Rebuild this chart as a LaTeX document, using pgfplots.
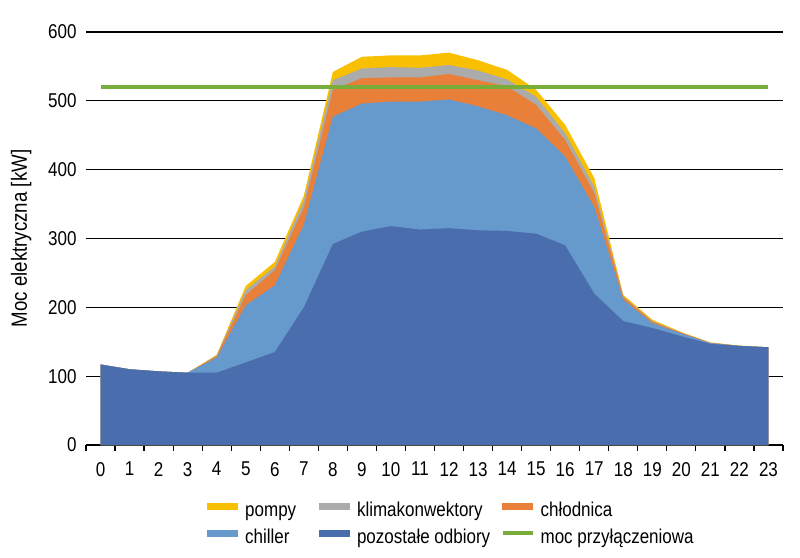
\documentclass[border=0pt]{standalone}
\usepackage{fontspec}
\setmainfont{Liberation Sans}[FakeStretch=0.85]
\usepackage{pgfplots}
\usepackage{pgfplotstable}
\pgfplotsset{compat=1.18}
\usetikzlibrary{calc}
\definecolor{cpompy}{HTML}{F8C000}
\definecolor{cklima}{HTML}{ABABAB}
\definecolor{cchlod}{HTML}{E8803A}
\definecolor{cchill}{HTML}{6699CC}
\definecolor{cpozo}{HTML}{4A6DAE}
\definecolor{cmoc}{HTML}{78AD3C}

% cumulative tops of the stacked areas
\pgfplotstableread{
x    Y     G     O     C     P
0    117   117   117   117   117
1    110   110   110   110   110
2    107   107   107   107   107
3    105   105   105   105   105
4    131   130   129   127   105
5    231   225   218   203   120
6    266   259   254   232   135
7    362   355   345   320   200
8    542   530   516   477   292
9    564   547   533   496   310
10   566   549   534   499   318
11   566   548   534   499   313
12   570   552   539   502   315
13   559   544   530   492   312
14   545   531   521   479   311
15   516   506   494   460   307
16   465   453   443   419   290
17   388   375   366   346   220
18   218   216   215   211   180
19   182   180   179   177   170
20   164   163   163   162   158
21   149   148.5 148.5 148   147
22   144.5 144   144   144   144
23   142   142   142   142   142
}\datatable

\pgfplotsset{
  barleg/.style={legend image code/.code={\fill[#1] (0pt,1.2pt) rectangle (15pt,4.2pt);}},
  lineleg/.style={legend image code/.code={\draw[#1,line width=1.8pt] (0pt,2.7pt) -- (15pt,2.7pt);}},
}

\begin{document}
\begin{tikzpicture}[font=\fontsize{10}{12}\selectfont]
\begin{axis}[
  name=ax,
  scale only axis,
  width=348.5pt, height=206.5pt,
  xmin=-0.5, xmax=23.5,
  ymin=0, ymax=600,
  axis x line*=bottom,
  axis y line*=left,
  y axis line style={draw=none},
  x axis line style={black, line width=0.6pt},
  xtick={0,...,23},
  minor xtick={-0.5,0.5,...,23.5},
  major tick length=0pt,
  minor tick length=2.8pt,
  tick align=outside,
  xtick pos=bottom,
  minor tick style={black, line width=0.6pt},
  ytick={0,100,...,600},
  ymajorgrids,
  major grid style={black, line width=0.6pt},
  /pgf/number format/assume math mode=true,
  yticklabel style={xshift=-1.2pt},
  xticklabel style={yshift=-5pt},
  ylabel={Moc elektryczna [kW]},
  ylabel style={at={(rel axis cs:-0.093,0.5)}, anchor=center, font=\fontsize{11}{13}\selectfont},
  legend columns=3,
  legend style={at={(0.165,-0.126)}, anchor=north west, draw=none, fill=none,
    nodes={inner sep=0pt, text height=7.5pt, text depth=2.5pt},
    column sep=0pt, row sep=3.5pt},
]
\addplot[fill=cpompy, draw=none, forget plot] table[x=x,y=Y] {\datatable} \closedcycle;
\addplot[fill=cklima, draw=none, forget plot] table[x=x,y=G] {\datatable} \closedcycle;
\addplot[fill=cchlod, draw=none, forget plot] table[x=x,y=O] {\datatable} \closedcycle;
\addplot[fill=cchill, draw=none, forget plot] table[x=x,y=C] {\datatable} \closedcycle;
\addplot[fill=cpozo, draw=none, forget plot] table[x=x,y=P] {\datatable} \closedcycle;
\addplot[cmoc, line width=2pt, forget plot] coordinates {(0,520) (23,520)};

\addlegendimage{barleg=cpompy}
\addlegendentry{\hspace{3.5pt}\makebox[37pt][l]{pompy}}
\addlegendimage{barleg=cklima}
\addlegendentry{\hspace{3.5pt}\makebox[72pt][l]{klimakonwektory}}
\addlegendimage{barleg=cchlod}
\addlegendentry{\hspace{3pt}\makebox[80pt][l]{chłodnica}}
\addlegendimage{barleg=cchill}
\addlegendentry{\hspace{3.5pt}\makebox[37pt][l]{chiller}}
\addlegendimage{barleg=cpozo}
\addlegendentry{\hspace{3.5pt}\makebox[72pt][l]{pozostałe odbiory}}
\addlegendimage{lineleg=cmoc}
\addlegendentry{\hspace{3pt}\makebox[80pt][l]{moc przyłączeniowa}}
\end{axis}
\pgfresetboundingbox
\path ($(ax.south west)+(-43pt,-56pt)$) rectangle ($(ax.north east)+(8.5pt,16pt)$);
\end{tikzpicture}
\end{document}
